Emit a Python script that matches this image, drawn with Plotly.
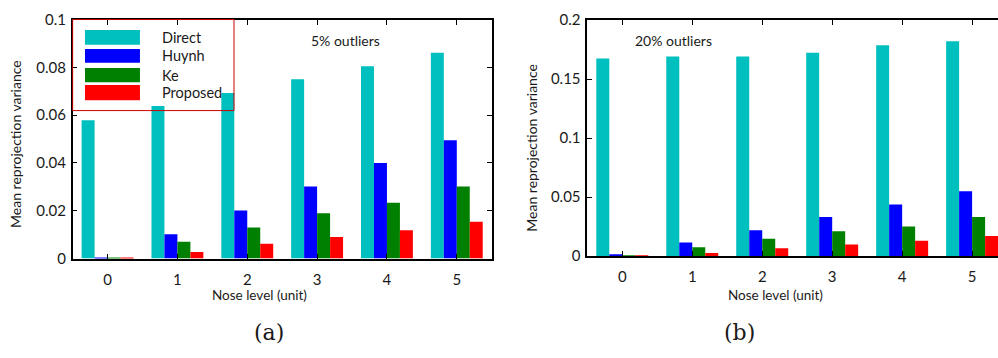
import plotly.graph_objects as go

# Noise levels (groups) and method names
noise_levels = [0, 1, 2, 3, 4, 5]
methods = ["Direct", "Huynh", "Ke", "Proposed"]
colors = ["#00BFBF", "#0000FF", "#008000", "#FF0000"]

# Mean reprojection variance, 5% outliers
var_5 = {
    "Direct":   [0.0579, 0.0638, 0.0693, 0.0750, 0.0805, 0.0861],
    "Huynh":    [0.0003, 0.0102, 0.0201, 0.0301, 0.0400, 0.0495],
    "Ke":       [0.0002, 0.0070, 0.0130, 0.0190, 0.0233, 0.0301],
    "Proposed": [0.0002, 0.0027, 0.0062, 0.0090, 0.0118, 0.0154],
}
# Mean reprojection variance, 20% outliers
var_20 = {
    "Direct":   [0.1676, 0.1692, 0.1692, 0.1724, 0.1788, 0.1821],
    "Huynh":    [0.0010, 0.0115, 0.0220, 0.0332, 0.0437, 0.0550],
    "Ke":       [0.0007, 0.0075, 0.0147, 0.0212, 0.0252, 0.0332],
    "Proposed": [0.0007, 0.0027, 0.0067, 0.0099, 0.0131, 0.0171],
}

y_ticks_a = [0, 0.02, 0.04, 0.06, 0.08, 0.1]
y_ticks_b = [0, 0.05, 0.1, 0.15, 0.2]

FONT = "Lato"
SERIF = "DejaVu Serif"
TXT = "#1a1a1a"
W, H = 998, 358

fig = go.Figure()
for m, c in zip(methods, colors):
    fig.add_trace(go.Bar(x=noise_levels, y=var_5[m], name=m, marker=dict(color=c, line=dict(width=0)),
                         xaxis="x", yaxis="y", offsetgroup=m, showlegend=False))
for m, c in zip(methods, colors):
    fig.add_trace(go.Bar(x=noise_levels, y=var_20[m], name=m, marker=dict(color=c, line=dict(width=0)),
                         xaxis="x2", yaxis="y2", offsetgroup=m, showlegend=False))

def xax(domain, rng, anchor):
    return dict(domain=domain, range=rng, anchor=anchor, tickvals=noise_levels,
                ticks="inside", ticklen=5, tickcolor="#000", tickwidth=1.3,
                showline=True, linecolor="#000", linewidth=2, mirror="allticks",
                showgrid=False, zeroline=False, ticklabelstandoff=6,
                tickfont=dict(family=FONT, size=15, color=TXT))

def yax(domain, rng, ticks, anchor, mirror):
    return dict(domain=domain, range=rng, anchor=anchor, tickvals=ticks,
                ticks="inside", ticklen=5, tickcolor="#000", tickwidth=1.3,
                showline=True, linecolor="#000", linewidth=1.5, mirror=mirror,
                showgrid=False, zeroline=False, ticklabelstandoff=2,
                tickfont=dict(family=FONT, size=15, color=TXT))

fig.update_layout(
    width=W, height=H, margin=dict(l=0, r=0, t=0, b=0),
    paper_bgcolor="white", plot_bgcolor="white",
    barmode="group", bargap=0.257, bargroupgap=0,
    xaxis=xax([0.0728, 0.4927], [-0.5, 5.5], "y"),
    yaxis=yax([0.269, 0.972], [0, 0.1], y_ticks_a, "x", "allticks"),
    xaxis2=xax([0.5885, 1.0], [-0.5, 5.37], "y2"),
    yaxis2=yax([0.276, 0.970], [0, 0.2], y_ticks_b, "x2", False),
)

ann = []
def text(px, py, s, size, family=FONT, **kw):
    # px, py: centre of the label in pixels from the top-left corner
    ann.append(dict(x=px / W, y=1 - py / H, xref="paper", yref="paper", text=s, showarrow=False,
                    xanchor="center", yanchor="middle",
                    font=dict(family=family, size=size, color=TXT), **kw))

text(345, 32, "5% outliers", 14)
text(673, 32, "20% outliers", 14)
text(16, 141, "Mean reprojection variance", 14, textangle=-90)
text(532, 145, "Mean reprojection variance", 14, textangle=-90)
text(259, 300, "Nose level (unit)", 13.5)
text(775, 300, "Nose level (unit)", 13.5)
text(268.5, 340, "(a)", 22, family=SERIF)
text(739, 340, "(b)", 22, family=SERIF)

# Legend for the left panel, drawn in axis-domain coordinates
shapes = [dict(type="rect", xref="x domain", yref="y domain", x0=0, x1=0.385, y0=0.619, y1=1,
               line=dict(color="#CC0000", width=1), fillcolor="rgba(0,0,0,0)", layer="above")]
row_top = [0.956, 0.877, 0.797, 0.726]
row_bot = [0.894, 0.819, 0.738, 0.662]
for m, c, t, b in zip(methods, colors, row_top, row_bot):
    shapes.append(dict(type="rect", xref="x domain", yref="y domain", x0=0.0294, x1=0.1606,
                       y0=b, y1=t, line=dict(width=0), fillcolor=c, layer="above"))
    ann.append(dict(x=0.208, y=(t + b) / 2, xref="x domain", yref="y domain", text=m,
                    showarrow=False, xanchor="left", yanchor="middle",
                    font=dict(family=FONT, size=14.5, color=TXT)))

fig.update_layout(annotations=ann, shapes=shapes)
fig.write_html("out.html")
